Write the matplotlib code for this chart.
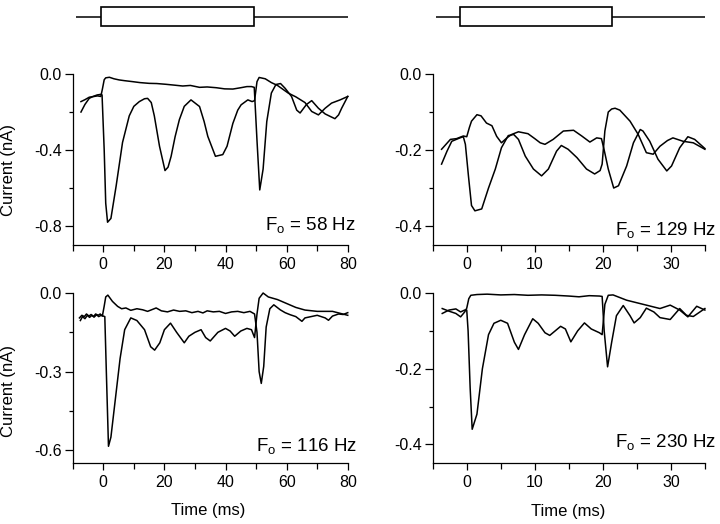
import numpy as np
import matplotlib
matplotlib.use("Agg")
import matplotlib.pyplot as plt
from matplotlib.patches import Rectangle
from matplotlib.ticker import FixedLocator, FormatStrFormatter

plt.rcParams['font.family'] = ['Liberation Sans', 'DejaVu Sans']
plt.rcParams['mathtext.fontset'] = 'custom'
plt.rcParams['mathtext.rm'] = 'Liberation Sans'
plt.rcParams['mathtext.it'] = 'Liberation Sans'

# ---------------- data (time in ms, current in nA) ----------------
# Panel F0 = 58 Hz
tl_t_a = [-7.3, -6, -4.6, -3, -1.9, -0.8, -0.3, 0.3, 0.8, 2, 3.5, 5.2, 7, 9.6, 12, 15, 17.5, 20.5, 23, 26,
          28.5, 31.5, 34, 37, 39.7, 42.4, 45, 47, 48.5, 49.4, 50.3, 51.2, 52.3, 53.5, 55, 56.5, 58, 59.5,
          61.6, 63.3, 64.4, 66.5, 68.2, 70.4, 72.6, 74.5, 75.8, 77, 78, 80]
tl_v_a = [-0.145, -0.135, -0.122, -0.118, -0.115, -0.118, -0.08, -0.03, -0.02, -0.017, -0.025, -0.031,
          -0.035, -0.04, -0.045, -0.049, -0.05, -0.054, -0.058, -0.063, -0.06, -0.07, -0.068, -0.072,
          -0.078, -0.079, -0.072, -0.066, -0.066, -0.07, -0.35, -0.61, -0.5, -0.25, -0.10, -0.055,
          -0.05, -0.075, -0.118, -0.19, -0.205, -0.16, -0.14, -0.18, -0.21, -0.225, -0.235, -0.215,
          -0.18, -0.118]
tl_t_b = [-7.3, -6, -4.6, -3.5, -2, -0.8, -0.4, 0.3, 0.8, 1.4, 2.5, 4.2, 6.3, 8.5, 10, 11.8, 13.5, 14.5,
          15.7, 16.7, 18.4, 20.2, 21.2, 22.2, 23.5, 24.9, 26.5, 28.7, 31.5, 33, 34.2, 36.7, 39.1, 40.5,
          42.4, 44, 45.1, 47.3, 48.7, 49.5, 50.3, 51, 53, 55, 57, 60.5, 63, 66, 68.2, 70.4, 72.6, 74.7,
          77.5, 80]
tl_v_b = [-0.2, -0.16, -0.128, -0.119, -0.11, -0.107, -0.11, -0.4, -0.68, -0.78, -0.76, -0.59, -0.36,
          -0.22, -0.17, -0.145, -0.13, -0.128, -0.15, -0.22, -0.38, -0.508, -0.49, -0.433, -0.33, -0.24,
          -0.17, -0.136, -0.171, -0.25, -0.328, -0.433, -0.424, -0.38, -0.26, -0.19, -0.162, -0.136,
          -0.145, -0.14, -0.04, -0.018, -0.025, -0.045, -0.06, -0.1, -0.12, -0.15, -0.197, -0.215,
          -0.18, -0.153, -0.136, -0.118]

# Panel F0 = 129 Hz
tr_t_a = [-3.7, -2.9, -2.2, -1, -0.5, -0.2, 0.25, 0.7, 1.2, 2.2, 3.2, 4.2, 5.1, 6.1, 6.9, 7.6, 8.6, 9.8,
          11, 12, 13.2, 13.9, 14.9, 16.2, 17.6, 18.8, 19.6, 19.9, 20.3, 20.8, 21.3, 21.8, 22.5, 24, 25.2,
          26.4, 27.4, 28.4, 29.5, 30.3, 31.8, 33.3, 35]
tr_v_a = [-0.237, -0.203, -0.177, -0.168, -0.165, -0.185, -0.268, -0.346, -0.36, -0.355, -0.30, -0.25,
          -0.194, -0.162, -0.159, -0.172, -0.216, -0.25, -0.268, -0.25, -0.203, -0.188, -0.198, -0.22,
          -0.25, -0.263, -0.254, -0.237, -0.15, -0.10, -0.092, -0.09, -0.095, -0.124, -0.159, -0.207,
          -0.211, -0.19, -0.175, -0.168, -0.177, -0.181, -0.198]
tr_t_b = [-3.7, -2.4, -1.5, -0.5, 0, 0.4, 0.7, 1.5, 2.1, 2.9, 3.7, 4.4, 5.1, 5.9, 6.6, 7.6, 9, 10, 10.8,
          11.5, 12.7, 14.2, 15.7, 16.9, 18.1, 19.1, 19.8, 20.2, 20.8, 21.6, 22.3, 23.5, 24.5, 25.5, 25.9,
          26.9, 28.1, 29.4, 30.1, 31.3, 32.5, 33.5, 35]
tr_v_b = [-0.198, -0.172, -0.17, -0.163, -0.165, -0.14, -0.124, -0.107, -0.11, -0.129, -0.136, -0.164,
          -0.181, -0.168, -0.159, -0.152, -0.157, -0.17, -0.181, -0.185, -0.172, -0.15, -0.148, -0.163,
          -0.179, -0.168, -0.17, -0.2, -0.25, -0.30, -0.294, -0.242, -0.181, -0.146, -0.15, -0.177,
          -0.224, -0.255, -0.242, -0.194, -0.165, -0.172, -0.196]

# Panel F0 = 116 Hz
bl_t_a = [-7.8, -7, -6.2, -5.5, -4.7, -4, -3.2, -2.5, -1.7, -1, -0.3, 0.3, 0.8, 1.5, 3, 4.7, 6, 7.4, 9,
          11, 12.9, 14.5, 17.3, 19, 21, 23, 25, 27, 29, 31, 32.6, 34, 36, 38, 40, 42, 44, 46, 48, 49.5,
          50.3, 51, 51.7, 52.5, 53.3, 54.5, 55.8, 57.9, 59.5, 61.2, 63, 65, 66, 68, 70, 72.6, 73.7, 75,
          77, 78.5, 80]
bl_v_a = [-0.095, -0.085, -0.09, -0.08, -0.088, -0.082, -0.09, -0.08, -0.085, -0.08, -0.088, -0.05,
          -0.015, -0.008, -0.032, -0.051, -0.06, -0.057, -0.066, -0.06, -0.064, -0.07, -0.057, -0.068,
          -0.072, -0.065, -0.07, -0.068, -0.075, -0.07, -0.076, -0.068, -0.072, -0.07, -0.078, -0.072,
          -0.07, -0.075, -0.07, -0.08, -0.15, -0.30, -0.345, -0.28, -0.13, -0.06, -0.045, -0.064,
          -0.075, -0.083, -0.09, -0.108, -0.095, -0.09, -0.085, -0.095, -0.104, -0.088, -0.08, -0.082,
          -0.075]
bl_t_b = [-7.5, -6.8, -6, -5.2, -4.5, -3.7, -3, -2.2, -1.5, -0.7, 0, 0.5, 1, 1.7, 2.5, 4, 5.5, 7, 9, 11,
          13.5, 15.5, 16.8, 18.5, 20, 22, 24, 26.5, 28, 30, 32, 33.5, 35, 37.5, 40, 41.5, 43, 45, 47,
          48.5, 49.5, 50.3, 51, 52.3, 54, 57, 60, 63, 66, 70, 75, 80]
bl_v_b = [-0.105, -0.09, -0.098, -0.085, -0.093, -0.085, -0.092, -0.083, -0.09, -0.085, -0.088, -0.09,
          -0.3, -0.585, -0.55, -0.4, -0.25, -0.14, -0.095, -0.105, -0.14, -0.205, -0.218, -0.19, -0.14,
          -0.115, -0.15, -0.19, -0.165, -0.15, -0.14, -0.17, -0.183, -0.15, -0.135, -0.145, -0.165,
          -0.145, -0.135, -0.14, -0.17, -0.08, -0.02, 0.0, -0.015, -0.025, -0.04, -0.055, -0.065,
          -0.07, -0.07, -0.085]

# Panel F0 = 230 Hz
br_t_a = [-3.6, -2.6, -1.6, -0.9, -0.3, 0, 0.3, 0.6, 1.5, 3, 5, 7, 9, 11, 13, 15, 16.5, 18, 19.5, 19.9,
          20.2, 20.7, 21.3, 22, 23, 24, 24.6, 25.5, 26.4, 27.5, 28.4, 29.9, 31.3, 32.3, 33.3, 35]
br_v_a = [-0.041, -0.048, -0.054, -0.063, -0.05, -0.04, -0.015, -0.006, -0.004, -0.003, -0.005, -0.004,
          -0.006, -0.005, -0.006, -0.008, -0.01, -0.007, -0.008, -0.009, -0.1, -0.195, -0.13, -0.06,
          -0.033, -0.06, -0.079, -0.065, -0.04, -0.05, -0.065, -0.07, -0.041, -0.059, -0.062, -0.041]
br_t_b = [-3.6, -2.6, -1.6, -0.9, -0.3, 0, 0.2, 0.5, 0.8, 1.5, 2.3, 3.2, 4, 5, 6, 7, 7.6, 8.5, 9.7, 10.5,
          11.5, 12.2, 13, 13.8, 14.5, 15.3, 16.3, 17.3, 18.3, 19.5, 19.9, 20.3, 20.8, 21.5, 23.5, 26.4,
          28.4, 29.9, 31.3, 32.5, 33.8, 35]
br_v_b = [-0.054, -0.045, -0.042, -0.05, -0.045, -0.045, -0.1, -0.25, -0.36, -0.32, -0.2, -0.11, -0.08,
          -0.072, -0.08, -0.13, -0.149, -0.11, -0.068, -0.08, -0.105, -0.112, -0.1, -0.088, -0.095,
          -0.129, -0.1, -0.079, -0.095, -0.105, -0.11, -0.03, -0.006, -0.005, -0.019, -0.032, -0.041,
          -0.032, -0.045, -0.063, -0.035, -0.045]

# stimulus (ms)
stim_left = {'start': -9, 'on': -0.8, 'off': 49.3, 'end': 80}
stim_right = {'start': -4.5, 'on': -1.0, 'off': 21.3, 'end': 35}

labels = ['58', '129', '116', '230']

# ---------------- figure ----------------
fig = plt.figure(figsize=(7.2, 5.24), dpi=100)

LW_AX = 0.9
LW_TR = 1.1
TICK_FS = 11.5

def style_axes(ax, xlim, ylim, xmaj, xmin, ymaj, ymin):
    ax.set_xlim(*xlim)
    ax.set_ylim(*ylim)
    for s in ['top', 'right']:
        ax.spines[s].set_visible(False)
    for s in ['left', 'bottom']:
        ax.spines[s].set_linewidth(LW_AX)
    ax.xaxis.set_major_locator(FixedLocator(xmaj))
    ax.xaxis.set_minor_locator(FixedLocator(xmin))
    ax.yaxis.set_major_locator(FixedLocator(ymaj))
    ax.yaxis.set_minor_locator(FixedLocator(ymin))
    ax.yaxis.set_major_formatter(FormatStrFormatter('%.1f'))
    ax.tick_params(axis='x', which='major', direction='out', length=5, width=LW_AX,
                   labelsize=TICK_FS, pad=3.5)
    ax.tick_params(axis='x', which='minor', direction='out', length=4, width=LW_AX)
    ax.tick_params(axis='y', which='major', direction='out', length=5.5, width=LW_AX,
                   labelsize=TICK_FS, pad=2.5)
    ax.tick_params(axis='y', which='minor', direction='out', length=3, width=LW_AX)

L_LEFT, L_W = 0.101, 0.382
R_LEFT, R_W = 0.601, 0.378
TOP_B, TOP_H = 0.5324, 0.3263
BOT_B, BOT_H = 0.1158, 0.325

ax_tl = fig.add_axes([L_LEFT, TOP_B, L_W, TOP_H])
ax_tr = fig.add_axes([R_LEFT, TOP_B, R_W, TOP_H])
ax_bl = fig.add_axes([L_LEFT, BOT_B, L_W, BOT_H])
ax_br = fig.add_axes([R_LEFT, BOT_B, R_W, BOT_H])

lx_maj = [0, 20, 40, 60, 80]
lx_min = [-10, 10, 30, 50, 70]
rx_maj = [0, 10, 20, 30]
rx_min = [-5, 5, 15, 25, 35]

style_axes(ax_tl, (-10, 80), (-0.9, 0.0), lx_maj, lx_min, [0.0, -0.4, -0.8], [-0.2, -0.6])
style_axes(ax_tr, (-5, 35), (-0.45, 0.0), rx_maj, rx_min, [0.0, -0.2, -0.4], [-0.1, -0.3])
style_axes(ax_bl, (-10, 80), (-0.65, 0.0), lx_maj, lx_min, [0.0, -0.3, -0.6], [-0.15, -0.45])
style_axes(ax_br, (-5, 35), (-0.45, 0.0), rx_maj, rx_min, [0.0, -0.2, -0.4], [-0.1, -0.3])

ax_tl.plot(tl_t_a, tl_v_a, color='black', lw=LW_TR, clip_on=False)
ax_tl.plot(tl_t_b, tl_v_b, color='black', lw=LW_TR, clip_on=False)
ax_tr.plot(tr_t_a, tr_v_a, color='black', lw=LW_TR, clip_on=False)
ax_tr.plot(tr_t_b, tr_v_b, color='black', lw=LW_TR, clip_on=False)
ax_bl.plot(bl_t_a, bl_v_a, color='black', lw=LW_TR, clip_on=False)
ax_bl.plot(bl_t_b, bl_v_b, color='black', lw=LW_TR, clip_on=False)
ax_br.plot(br_t_a, br_v_a, color='black', lw=LW_TR, clip_on=False)
ax_br.plot(br_t_b, br_v_b, color='black', lw=LW_TR, clip_on=False)

# F0 annotations
fo_pos = {ax_tl: (1.03, 0.088), ax_tr: (1.043, 0.058), ax_bl: (1.033, 0.074), ax_br: (1.043, 0.097)}
for ax, lab in zip((ax_tl, ax_tr, ax_bl, ax_br), labels):
    x, y = fo_pos[ax]
    ax.text(x, y, r'F$_{\mathrm{o}}$ = ' + lab + ' Hz', transform=ax.transAxes,
            ha='right', va='baseline', fontsize=13.5)

# axis labels
for ax, yc in ((ax_tl, 0.44), (ax_bl, 0.426)):
    ax.set_ylabel('Current (nA)', fontsize=12)
    ax.yaxis.set_label_coords(-0.206, yc)
ax_bl.set_xlabel('Time (ms)', fontsize=12)
ax_bl.xaxis.set_label_coords(0.492, -0.235)
ax_br.set_xlabel('Time (ms)', fontsize=12)
ax_br.xaxis.set_label_coords(0.498, -0.24)

# stimulus bars
def stim_axes(left, width, xlim, st):
    sa = fig.add_axes([left, 0.9427, width, 0.0496])
    sa.set_xlim(*xlim)
    sa.set_ylim(0, 1)
    sa.axis('off')
    sa.plot([st['start'], st['on']], [0.5, 0.5], color='black', lw=1.1, solid_capstyle='butt')
    sa.plot([st['off'], st['end']], [0.5, 0.5], color='black', lw=1.1, solid_capstyle='butt')
    sa.add_patch(Rectangle((st['on'], 0.16), st['off'] - st['on'], 0.74,
                           facecolor='white', edgecolor='black', lw=1.2))
    return sa

stim_axes(L_LEFT, L_W, (-10, 80), stim_left)
stim_axes(R_LEFT, R_W, (-5, 35), stim_right)

fig.savefig('out.png', dpi=100)
